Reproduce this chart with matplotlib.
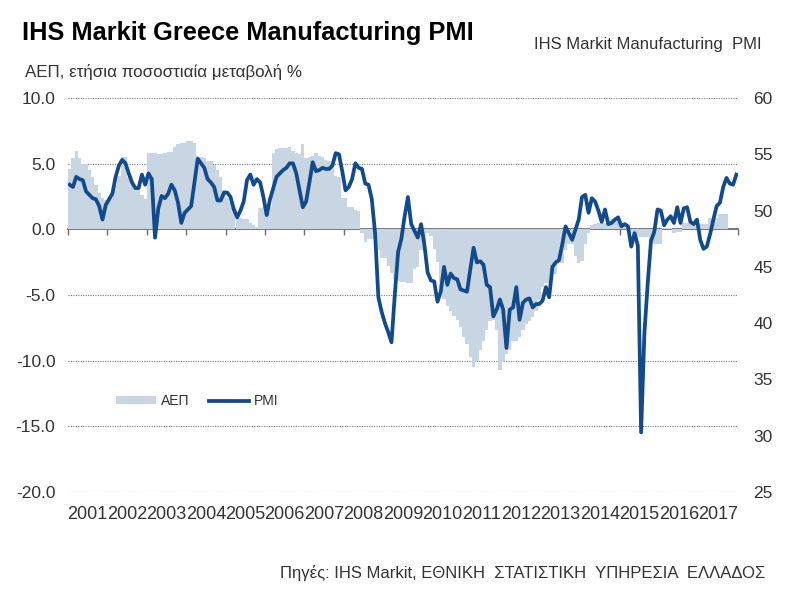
import matplotlib
matplotlib.use("Agg")
import matplotlib.pyplot as plt
import numpy as np
from matplotlib.ticker import FormatStrFormatter

plt.rcParams['font.family'] = ['Liberation Sans', 'DejaVu Sans']

# Data
# GDP, y/y % change, monthly steps, Jan 2001 - Sep 2017
gdp = [
    4.6, 5.4, 6.0, 5.4, 5.0, 5.0, 4.5, 4.0, 3.4, 2.8, 2.4, 2.2,              # 2001
    2.2, 2.6, 3.4, 4.1, 5.5, 5.5, 4.0, 3.6, 3.3, 3.0, 2.6, 2.3,              # 2002
    5.8, 5.8, 5.8, 5.7, 5.7, 5.8, 5.9, 5.9, 6.3, 6.5, 6.6, 6.6,              # 2003
    6.7, 6.7, 6.6, 5.6, 5.5, 5.4, 5.2, 5.2, 4.9, 4.5, 4.0, 3.0,              # 2004
    2.4, 2.0, 1.7, 1.0, 0.9, 0.8, 0.8, 0.5, 0.3, 0.2, 1.6, 1.7,              # 2005
    1.7, 1.7, 5.8, 6.1, 6.2, 6.2, 6.2, 6.3, 6.0, 5.8, 5.7, 6.5,              # 2006
    5.4, 5.5, 5.6, 5.8, 5.6, 5.5, 5.3, 5.2, 5.0, 4.1, 4.0, 2.4,              # 2007
    2.4, 1.7, 1.7, 1.5, 1.4, -0.3, -1.0, -0.7, -0.7, -0.7, -1.6, -2.2,       # 2008
    -2.2, -2.8, -3.3, -3.8, -3.9, -4.0, -4.0, -4.1, -4.1, -3.0, -2.9, -1.6,  # 2009
    -1.5, -0.3, -0.5, -1.5, -2.5, -4.5, -5.3, -5.8, -6.2, -6.6, -6.9, -7.4,  # 2010
    -8.2, -8.7, -9.7, -10.5, -10.0, -9.2, -8.5, -7.7, -7.0, -6.9, -7.7, -10.7,  # 2011
    -10.0, -9.5, -9.2, -8.5, -8.5, -8.2, -7.7, -7.2, -7.0, -6.7, -6.2, -5.4,  # 2012
    -4.4, -4.1, -4.1, -3.4, -3.4, -2.6, -2.6, -1.6, -1.1, -1.1, -2.0, -2.6,  # 2013
    -2.4, -1.1, -0.3, 0.3, 0.4, 0.5, 0.5, 0.5, 0.5, 0.8, 0.8, 0.8,           # 2014
    0.2, 0.2, -0.1, -0.3, -0.4, -0.6, -0.6, -0.6, -0.6, -1.1, -1.1, -1.1,    # 2015
    -1.1, 0.1, 0.1, 0.1, -0.3, -0.2, -0.2, 0.5, 0.5, 0.5, 0.3, 0.3,          # 2016
    0.4, 0.4, 0.4, 0.9, 0.9, 0.9, 1.2, 1.2, 1.2,                             # 2017
]

# PMI, monthly, Jan 2001 - Dec 2017
pmi = [
    52.3, 52.1, 53.0, 52.8, 52.7, 51.7, 51.4, 51.1, 51.0, 50.4, 49.2, 50.5,  # 2001
    51.0, 51.5, 53.0, 54.0, 54.5, 54.2, 53.3, 52.5, 52.0, 52.0, 53.2, 52.3,  # 2002
    53.3, 52.8, 47.6, 50.2, 51.3, 51.1, 51.5, 52.3, 51.8, 50.7, 48.9, 49.8,  # 2003
    50.1, 50.4, 52.5, 54.6, 54.2, 53.8, 52.8, 52.5, 52.1, 50.9, 50.9, 51.6,  # 2004
    51.6, 51.2, 50.1, 49.4, 50.0, 50.8, 52.7, 53.2, 52.3, 52.8, 52.5, 51.2,  # 2005
    49.6, 51.0, 52.0, 53.0, 53.3, 53.6, 53.8, 54.2, 54.2, 53.3, 51.8, 50.3,  # 2006
    50.8, 52.5, 54.3, 53.5, 53.6, 53.8, 53.7, 53.7, 54.0, 55.1, 55.0, 53.5,  # 2007
    51.8, 52.1, 52.8, 54.2, 53.8, 53.7, 52.4, 52.3, 51.0, 48.0, 42.3, 41.0,  # 2008
    40.0, 39.2, 38.3, 42.5, 46.3, 47.5, 49.5, 51.2, 48.8, 48.2, 47.6, 48.8,  # 2009
    47.0, 44.5, 43.8, 43.7, 41.9, 42.8, 45.0, 43.4, 44.4, 44.0, 43.9, 43.0,  # 2010
    42.9, 42.8, 44.8, 46.7, 45.4, 45.5, 45.2, 43.4, 43.2, 40.6, 41.2, 42.1,  # 2011
    41.2, 37.8, 41.2, 41.4, 43.2, 40.3, 41.8, 42.1, 42.2, 41.4, 41.7, 41.7,  # 2012
    42.0, 43.2, 42.3, 45.0, 45.4, 45.6, 47.0, 48.6, 48.0, 47.4, 48.3, 49.2,  # 2013
    51.2, 51.4, 49.8, 51.1, 50.8, 50.0, 49.0, 50.1, 48.8, 48.9, 49.2, 49.4,  # 2014
    48.6, 48.8, 48.6, 46.8, 48.0, 46.9, 30.3, 39.1, 43.5, 47.3, 48.1, 50.1,  # 2015
    50.0, 48.7, 49.2, 49.5, 48.9, 50.3, 48.9, 50.2, 50.3, 49.0, 48.8, 49.2,  # 2016
    47.4, 46.6, 46.8, 47.9, 49.2, 50.4, 50.7, 52.1, 52.9, 52.4, 52.3, 53.2,  # 2017
]

years = list(range(2001, 2018))
left_ticks = [-20, -15, -10, -5, 0, 5, 10]
right_ticks = [25, 30, 35, 40, 45, 50, 55, 60]

GDP_COLOR = "#c8d6e4"
PMI_COLOR = "#124a8c"
TEXT_COLOR = "#333333"
GRID_COLOR = "#7a7a7a"

fig = plt.figure(figsize=(8, 5.93), dpi=100)
ax = fig.add_axes([0.085, 0.1703, 0.8375, 0.6644])

x_gdp = 2001 + (np.arange(len(gdp)) + 0.5) / 12
bars = ax.bar(x_gdp, gdp, width=1 / 12, color=GDP_COLOR, linewidth=0)

ax.set_xlim(2001, 2018)
ax.set_ylim(-20, 10)
ax.set_yticks(left_ticks)
ax.yaxis.set_major_formatter(FormatStrFormatter('%.1f'))
ax.tick_params(axis='y', length=0, pad=9, labelsize=12.5, colors=TEXT_COLOR)
ax.set_xticks([y + 0.5 for y in years], [str(y) for y in years])
ax.tick_params(axis='x', length=0, pad=10, labelsize=13.0, colors=TEXT_COLOR)
for s in ax.spines.values():
    s.set_visible(False)
ax.grid(axis='y', linestyle=(0, (1, 1.2)), color=GRID_COLOR, linewidth=0.8)
ax.set_axisbelow(True)

# zero line with year ticks
zero = ax.secondary_xaxis(2 / 3)
zero.set_alignment('bottom')
zero.set_xticks(range(2001, 2019))
zero.tick_params(axis='x', direction='out', length=4, width=1, color='#6f6f6f',
                 labelbottom=False, labeltop=False)
zero.spines['bottom'].set_color('#6f6f6f')
zero.spines['bottom'].set_linewidth(1.3)
zero.spines['top'].set_visible(False)

# PMI on the right axis
ax2 = ax.twinx()
x_pmi = 2001 + (np.arange(len(pmi)) + 0.5) / 12
line, = ax2.plot(x_pmi, pmi, color=PMI_COLOR, linewidth=2.7, solid_joinstyle='round')
ax2.set_ylim(25, 60)
ax2.set_yticks(right_ticks)
ax2.tick_params(axis='y', length=0, pad=11, labelsize=12.5, colors=TEXT_COLOR)
for s in ax2.spines.values():
    s.set_visible(False)

ax2.legend([bars, line], ['ΑΕΠ', 'PMI'], loc='center left', bbox_to_anchor=(0.0716, 0.231),
           ncol=2, frameon=False, fontsize=10, handlelength=2.9, handleheight=0.5,
           handletextpad=0.35, columnspacing=1.4, borderpad=0, borderaxespad=0,
           labelcolor=TEXT_COLOR)

fig.text(22 / 800, 1 - 33 / 593, 'IHS Markit Greece Manufacturing PMI', fontsize=18.3,
         fontweight='bold', ha='left', va='center', color='black')
fig.text(762 / 800, 1 - 44 / 593, 'IHS Markit Manufacturing  PMI', fontsize=12,
         ha='right', va='center', color=TEXT_COLOR)
fig.text(25 / 800, 1 - 72 / 593, 'ΑΕΠ, ετήσια ποσοστιαία μεταβολή %', fontsize=12.2,
         ha='left', va='center', color=TEXT_COLOR)
fig.text(765 / 800, 1 - 573 / 593, 'Πηγές: IHS Markit, ΕΘΝΙΚΗ  ΣΤΑΤΙΣΤΙΚΗ  ΥΠΗΡΕΣΙΑ  ΕΛΛΑΔΟΣ',
         fontsize=12, ha='right', va='center', color=TEXT_COLOR)

fig.savefig('out.png', dpi=100)
